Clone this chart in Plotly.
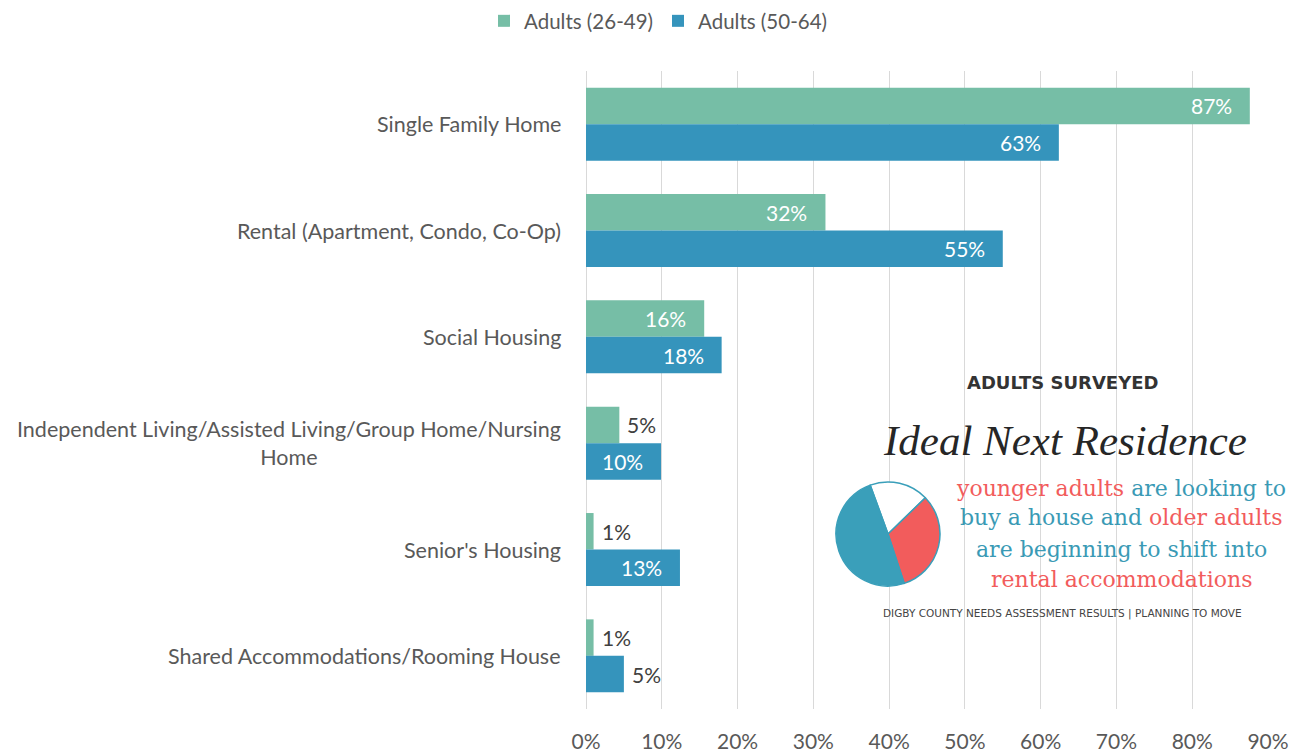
import plotly.graph_objects as go

# ---------------- data ----------------
categories = [
    "Single Family Home",
    "Rental (Apartment, Condo, Co-Op)",
    "Social Housing",
    "Independent Living/Assisted Living/Group Home/Nursing<br>Home",
    "Senior's Housing",
    "Shared Accommodations/Rooming House",
]
series_names = ["Adults (26-49)", "Adults (50-64)"]
adults_26_49 = [87.6, 31.6, 15.6, 4.4, 1.0, 1.0]
adults_50_64 = [62.4, 55.0, 17.9, 9.9, 12.4, 5.0]
labels_26_49 = ["87%", "32%", "16%", "5%", "1%", "1%"]
labels_50_64 = ["63%", "55%", "18%", "10%", "13%", "5%"]
x_tickvals = [0, 10, 20, 30, 40, 50, 60, 70, 80, 90]
x_ticktext = ["0%", "10%", "20%", "30%", "40%", "50%", "60%", "70%", "80%", "90%"]

pie_labels = ["Other", "Older adults", "Younger adults"]
pie_values = [18.3, 32.2, 49.5]

# ---------------- styles ----------------
GREEN = "#76bea6"
BLUE = "#3594bc"
RED_TXT = "#f25c5c"
TEAL_TXT = "#3a9ab5"
LABEL_FONT = "Lato"

OFF = 8                     # page body offset
W, H = 1301 - OFF, 754 - OFF
PL, PR, PT, PB = 586, 1268, 71, 709   # plot box in screen pixels
L, R, T, B = PL - OFF, W - (PR - OFF), PT - OFF, H - (PB - OFF)
PW, PH = PR - PL, PB - PT


def px_x(px):
    return (px - PL) / PW


def px_y(py):
    return (PB - py) / PH


fig = go.Figure()
fig.add_trace(go.Bar(name=series_names[0], y=categories, x=adults_26_49, orientation="h",
                     marker=dict(color=GREEN, line=dict(width=0)), hoverinfo="x+y"))
fig.add_trace(go.Bar(name=series_names[1], y=categories, x=adults_50_64, orientation="h",
                     marker=dict(color=BLUE, line=dict(width=0)), hoverinfo="x+y"))

annotations = []
# data labels
for vals, labs, shift in ((adults_26_49, labels_26_49, 18.3), (adults_50_64, labels_50_64, -18.3)):
    for cat, v, lab in zip(categories, vals, labs):
        inside = v >= 8
        annotations.append(dict(
            x=v, y=cat, xref="x", yref="y", text=lab, showarrow=False,
            xanchor="right" if inside else "left", yanchor="middle",
            xshift=-16 if inside else 6, yshift=shift,
            font=dict(family=LABEL_FONT, size=21, color="white" if inside else "#404040"),
        ))
# category labels
for cat in categories:
    annotations.append(dict(
        x=0, y=cat, xref="paper", yref="y", text=cat, showarrow=False,
        xanchor="right", yanchor="middle", xshift=-23, align="center",
        font=dict(family=LABEL_FONT, size=21.5, color="#595959"),
    ))


def info_text(text, xpx, ypx, family, size, color):
    annotations.append(dict(x=px_x(xpx), y=px_y(ypx), xref="paper", yref="paper",
                            text=text, showarrow=False, xanchor="center", yanchor="middle",
                            font=dict(family=family, size=size, color=color)))


info_text("<b>ADULTS SURVEYED</b>", 1062, 382, "DejaVu Sans", 18, "#333333")
info_text("<i>Ideal Next Residence</i>", 1065, 440, "Liberation Serif", 43, "#262626")
lines = [
    f"<span style='color:{RED_TXT}'>younger adults</span> are looking to",
    f"buy a house and <span style='color:{RED_TXT}'>older adults</span>",
    "are beginning to shift into",
    f"<span style='color:{RED_TXT}'>rental accommodations</span>",
]
for ln, ypx in zip(lines, [488, 518, 549, 579]):
    info_text(ln, 1121, ypx, "DejaVu Serif", 22, TEAL_TXT)
info_text("DIGBY COUNTY NEEDS ASSESSMENT RESULTS | PLANNING TO MOVE", 1062, 613,
          "DejaVu Sans", 10.5, "#444444")

# pie
cx, cy, r = 888, 534, 52
fig.add_trace(go.Pie(
    labels=pie_labels, values=pie_values, sort=False, direction="clockwise", rotation=-20,
    marker=dict(colors=["#ffffff", "#f25c5c", "#3a9fba"], line=dict(color="#3a9fba", width=1.5)),
    textinfo="none", hoverinfo="skip", showlegend=False,
    domain=dict(x=[px_x(cx - r), px_x(cx + r)], y=[px_y(cy + r), px_y(cy - r)]),
))

fig.update_layout(
    width=W, height=H,
    margin=dict(l=L, r=R, t=T, b=B, pad=0, autoexpand=False),
    paper_bgcolor="white", plot_bgcolor="white",
    barmode="group", bargap=0.314, bargroupgap=0,
    showlegend=True,
    legend=dict(orientation="h", x=px_x(658), xanchor="center", y=px_y(21), yanchor="middle",
                font=dict(family=LABEL_FONT, size=20.5, color="#595959"),
                traceorder="normal", itemwidth=30),
    xaxis=dict(range=[0, 90], tickvals=x_tickvals, ticktext=x_ticktext, automargin=False,
               showgrid=True, gridcolor="#d9d9d9", gridwidth=1.3,
               zeroline=True, zerolinecolor="#d9d9d9", zerolinewidth=1.3,
               showline=False, ticks="", ticklabelstandoff=18,
               tickfont=dict(family=LABEL_FONT, size=21, color="#595959"), fixedrange=True),
    yaxis=dict(autorange="reversed", showticklabels=False, showgrid=False, zeroline=False,
               showline=False, ticks="", fixedrange=True, automargin=False),
    shapes=[dict(type="rect", xref="paper", yref="paper",
                 x0=px_x(830), x1=px_x(1290), y0=px_y(647), y1=px_y(346),
                 fillcolor="white", line=dict(width=0), layer="between")],
    annotations=annotations,
)

fig.write_html("out.html")
